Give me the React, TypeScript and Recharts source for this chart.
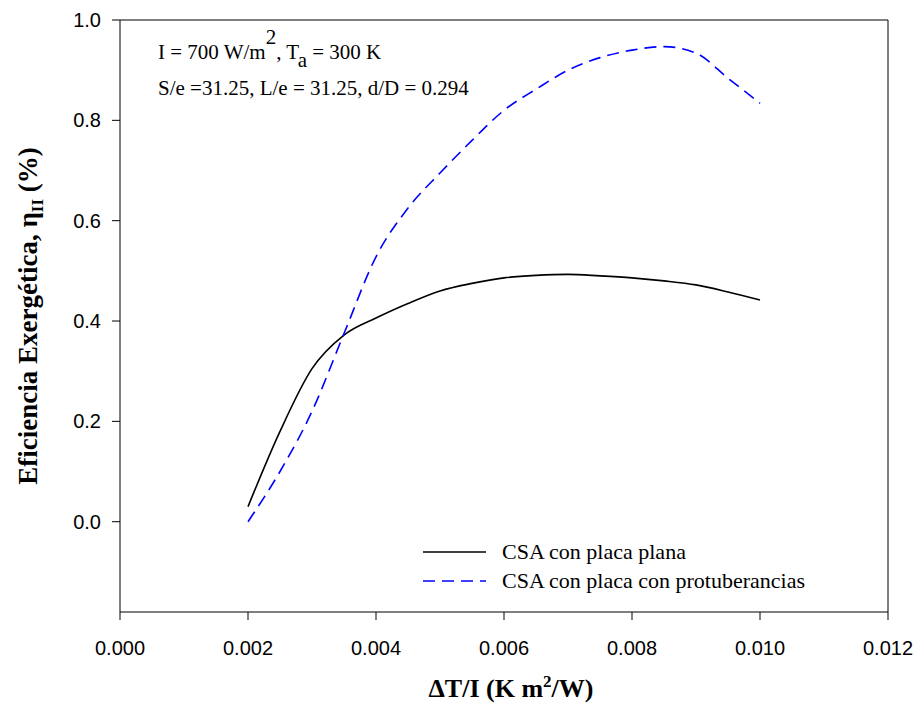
import React from 'react';
import { LineChart, Line, XAxis, YAxis, Legend, ReferenceLine, Customized } from 'recharts';

const xValues = [0.002, 0.0025, 0.003, 0.0035, 0.004, 0.0045, 0.005, 0.0055, 0.006, 0.0065, 0.007, 0.0075, 0.008, 0.0085, 0.009, 0.0095, 0.01];
const placaPlana = [0.03, 0.18, 0.305, 0.372, 0.406, 0.435, 0.46, 0.475, 0.486, 0.491, 0.493, 0.49, 0.486, 0.48, 0.472, 0.458, 0.442];
const placaProtuberancias = [0.0, 0.1, 0.22, 0.375, 0.528, 0.625, 0.695, 0.76, 0.82, 0.862, 0.9, 0.925, 0.94, 0.947, 0.934, 0.884, 0.834];
const xTicks = [0, 0.002, 0.004, 0.006, 0.008, 0.01, 0.012];
const yTicks = [0, 0.2, 0.4, 0.6, 0.8, 1.0];
const seriesNames = ['CSA con placa plana', 'CSA con placa con protuberancias'];

const data = xValues.map((x, i) => ({ x, plana: placaPlana[i], prot: placaProtuberancias[i] }));

const SERIF = '"Liberation Serif", "Times New Roman", serif';
const SANS = '"Liberation Sans", Arial, sans-serif';

const Annotation = () => (
  <g fontFamily={SERIF} fontSize={21} fill="#000">
    <text x={158} y={59}>
      <tspan>I = 700 W/m</tspan>
      <tspan dy={-15} fontSize={21}>2</tspan>
      <tspan dy={15}>, T</tspan>
      <tspan dy={8}>a</tspan>
      <tspan dy={-8}> = 300 K</tspan>
    </text>
    <text x={158} y={95}>S/e =31.25, L/e = 31.25, d/D = 0.294</text>
  </g>
);

const Titles = () => (
  <g fontFamily={SERIF} fontWeight="bold" fill="#000">
    <text x={511} y={697} textAnchor="middle" fontSize={26}>
      <tspan>ΔT/I (K m</tspan>
      <tspan dy={-10} fontSize={17}>2</tspan>
      <tspan dy={10}>/W)</tspan>
    </text>
    <text x={37} y={316} textAnchor="middle" fontSize={27} transform="rotate(-90 37 316)">
      <tspan>Eficiencia Exergética, η</tspan>
      <tspan dy={6} fontSize={17}>II</tspan>
      <tspan dy={-6}> (%)</tspan>
    </text>
  </g>
);

const renderLegend = () => (
  <div style={{ fontFamily: SERIF, fontSize: 22, color: '#000', lineHeight: '29px' }}>
    {seriesNames.map((name, i) => (
      <div key={name} style={{ display: 'flex', alignItems: 'center', height: 29 }}>
        <svg width={63} height={4} style={{ marginRight: 16 }}>
          <line x1={0} y1={2} x2={63} y2={2} stroke={i === 0 ? '#000' : '#0000ff'} strokeWidth={1.5} strokeDasharray={i === 0 ? undefined : '12 7'} />
        </svg>
        <span>{name}</span>
      </div>
    ))}
  </div>
);

export default function App() {
  return (
    <div style={{ position: 'absolute', left: 0, top: 0, width: 917, height: 718, background: '#fff' }}>
      <LineChart width={917} height={718} data={data} margin={{ top: 20, right: 29, left: 0, bottom: 0 }}>
        <XAxis
          dataKey="x"
          type="number"
          domain={[0, 0.012]}
          ticks={xTicks}
          tickFormatter={(v: number) => v.toFixed(3)}
          height={106}
          tickSize={8}
          tickMargin={21}
          stroke="#000"
          tick={{ fill: '#000', fontSize: 20, fontFamily: SANS }}
          allowDataOverflow
        />
        <YAxis
          type="number"
          domain={[-0.18, 1.0]}
          ticks={yTicks}
          tickFormatter={(v: number) => v.toFixed(1)}
          width={120}
          tickSize={8}
          tickMargin={11}
          stroke="#000"
          tick={{ fill: '#000', fontSize: 20, fontFamily: SANS }}
          allowDataOverflow
        />
        <ReferenceLine y={1.0} stroke="#000" strokeWidth={1} />
        <ReferenceLine x={0.012} stroke="#000" strokeWidth={1} />
        <Line type="monotone" dataKey="plana" name={seriesNames[0]} stroke="#000" strokeWidth={1.6} dot={false} isAnimationActive={false} />
        <Line type="monotone" dataKey="prot" name={seriesNames[1]} stroke="#0000ff" strokeWidth={1.6} strokeDasharray="12 7" dot={false} isAnimationActive={false} />
        <Legend
          layout="vertical"
          align="center"
          verticalAlign="middle"
          content={renderLegend}
          wrapperStyle={{ left: 423, top: 537, width: 420 }}
        />
        <Customized component={Annotation} />
        <Customized component={Titles} />
      </LineChart>
    </div>
  );
}
